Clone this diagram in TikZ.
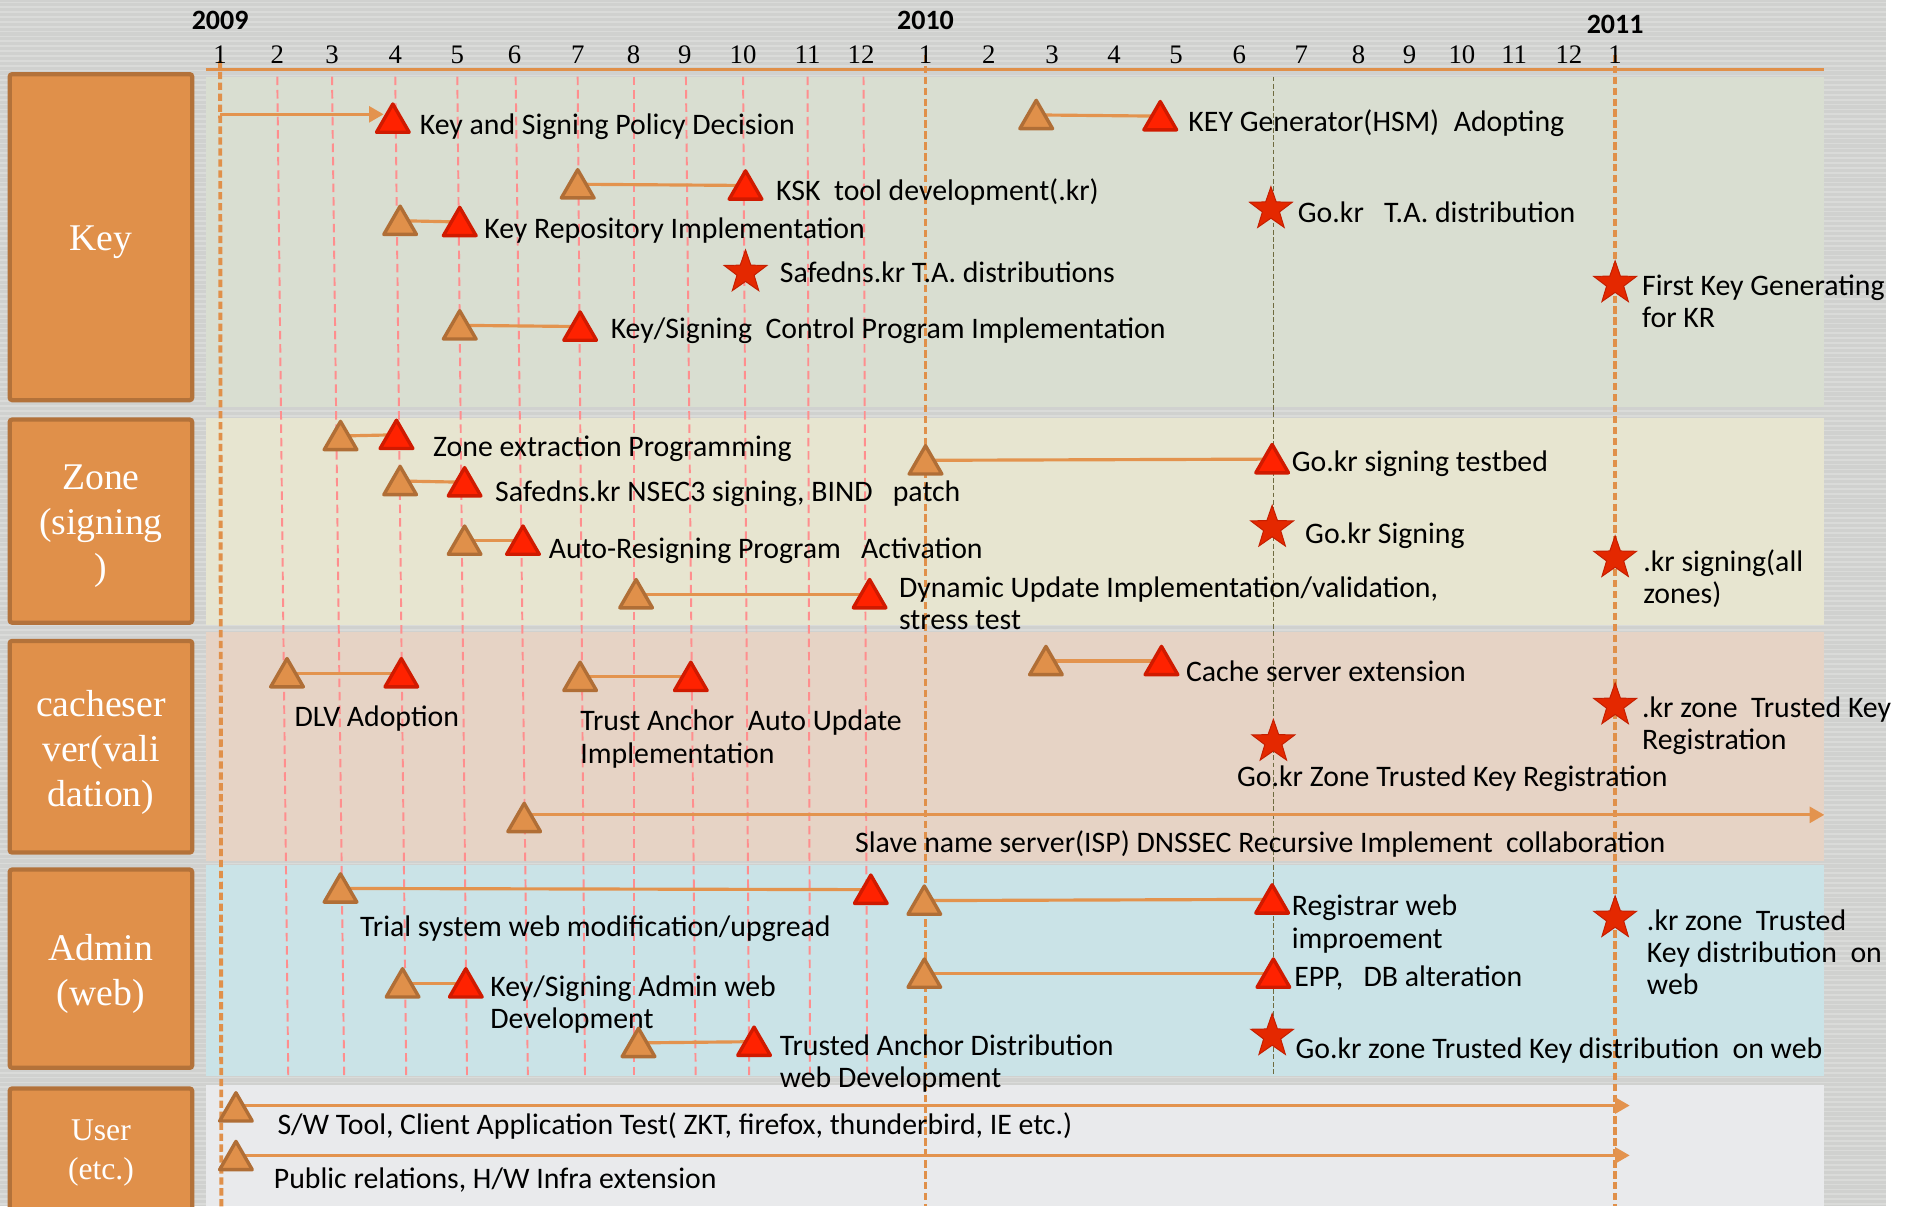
\documentclass[tikz,border=0pt]{standalone}
\usepackage{fontspec}
\setmainfont{Carlito}
\newfontfamily\serifF{Liberation Serif}
\usetikzlibrary{shapes.geometric,arrows.meta}
\definecolor{bgGrey}{HTML}{D0D1CF}
\definecolor{keyBand}{HTML}{D9DED1}
\definecolor{zoneBand}{HTML}{E7E5D0}
\definecolor{cacheBand}{HTML}{E6D3C5}
\definecolor{adminBand}{HTML}{CAE3E7}
\definecolor{userBand}{HTML}{E9EAEC}
\definecolor{boxF}{HTML}{E0904A}
\definecolor{boxD}{HTML}{B3723A}
\definecolor{triOr}{HTML}{E0904A}
\definecolor{triOrD}{HTML}{B06E36}
\definecolor{triRed}{HTML}{FF2200}
\definecolor{triRedD}{HTML}{D01A00}
\definecolor{starR}{HTML}{E42800}
\definecolor{starD}{HTML}{C41E00}
\definecolor{lnOr}{HTML}{E3934E}
\definecolor{pinkL}{HTML}{FF8E8E}
\definecolor{oliveL}{HTML}{6F6B3F}
\pgfdeclarelayer{bg}
\pgfdeclarelayer{mid}
\pgfsetlayers{bg,mid,main}
\begin{document}
\begin{tikzpicture}[x=1pt,y=-1pt,
  ostart/.style={regular polygon, regular polygon sides=3, minimum size=31pt, inner sep=0pt, fill=triOr, draw=triOrD, line width=2.8pt, line join=round},
  rend/.style={ostart, fill=triRed, draw=triRedD},
  mstar/.style={star, star points=5, star point ratio=2.5, minimum size=37pt, inner sep=0pt, fill=starR, draw=starD, line width=0.8pt},
  lab/.style={anchor=base west, inner sep=0pt, align=left, font=\fontsize{24.5}{26.5}\selectfont},
  evlink/.style={draw=lnOr, line width=2.6pt},
  evarrow/.style={evlink, -{Triangle[length=12pt,width=13pt]}},
  boxst/.style={draw=boxD, fill=boxF, line width=3.5pt, rounded corners=2pt, minimum width=150pt},
  boxlab/.style={text=white, align=center, inner sep=0pt, font=\serifF\fontsize{31}{37}\selectfont},
  monthlab/.style={font=\serifF\fontsize{22}{24}\selectfont, inner sep=0pt},
  yearlab/.style={font=\bfseries\fontsize{23}{25}\selectfont, inner sep=0pt},
  pinkdash/.style={draw=pinkL, line width=1.6pt, dash pattern=on 7pt off 4pt},
  orvert/.style={draw=boxF, line width=3.2pt, dash pattern=on 6pt off 3pt},
  olivedash/.style={draw=oliveL, line width=1.4pt, dash pattern=on 4pt off 2pt}
]
\useasboundingbox (0,0) rectangle (1568,992);
\begin{pgfonlayer}{bg}
\fill[white] (0,0) rectangle (1568,992);
\fill[bgGrey] (0,0) rectangle (1551,992);
\foreach \yy in {2,6,...,990} \draw[white, opacity=0.22, line width=1.4pt] (0,\yy) -- (1551,\yy);
% bands
\fill[keyBand] (169,63) rectangle (1500,335);
\fill[zoneBand] (169,344) rectangle (1500,514);
\fill[cacheBand] (169,520) rectangle (1500,708);
\fill[adminBand] (169,711) rectangle (1500,885);
\fill[userBand] (169,892) rectangle (1500,992);
% pink month lines
\foreach \xt/\xb in {228/237,273/283,325/334,376/384,424/434,475/481,521/521,564/572,611/616,664/666,710/713}
  \draw[pinkdash] (\xt,63) -- (\xb,884);
% olive line
\draw[olivedash] (1047,63) -- (1047,884);
% year lines
\draw[orvert] (181,50) -- (182,992);
\draw[orvert] (761,45) -- (761,992);
\draw[orvert] (1328,45) -- (1328,992);
% axis
\draw[draw=boxF, line width=2.6pt] (169,57) -- (1500,57);
\end{pgfonlayer}

% left boxes
\node[boxst, minimum height=268pt] (bKey) at (83,195) {};
\node[boxst, minimum height=167pt] (bZone) at (83,428.5) {};
\node[boxst, minimum height=174pt] (bCache) at (83,614) {};
\node[boxst, minimum height=163pt] (bAdmin) at (83,796.5) {};
\node[boxst, minimum height=108pt] (bUser) at (83,949) {};
\node[boxlab] (lKey) at (83,199) {Key};
\node[boxlab] (lZone) at (83,433) {Zone\\(signing\\)};
\node[boxlab] (lCache) at (83,619) {cacheser\\ver(vali\\dation)};
\node[boxlab] (lAdmin) at (83,801) {Admin\\(web)};
\node[boxlab, font=\serifF\fontsize{26}{32}\selectfont] (lUser) at (83,948) {User\\(etc.)};

% years and months
\node[yearlab] (y2009) at (181,17) {2009};
\node[yearlab] (y2010) at (761,17) {2010};
\node[yearlab] (y2011) at (1328,20) {2011};
\foreach \x/\n [count=\i] in {181/1,228/2,273/3,325/4,376/5,423/6,475/7,521/8,563/9,611/10,664/11,708/12,761/1,813/2,865/3,916/4,967/5,1019/6,1070/7,1117/8,1159/9,1202/10,1245/11,1290/12,1328/1}
  \node[monthlab] (m\i) at (\x,45) {\n};

% ---------------- Key band
\coordinate (c1) at (181,94);
\node[rend] (r1) at (323,101) {};
\draw[evarrow, shorten >=-3pt] (c1) -- (c1 -| r1.west);
\node[lab] (t1) at (345,111) {Key and Signing Policy Decision};

\node[ostart] (o2) at (852,98) {};
\node[rend] (r2) at (954,99) {};
\node[lab] (t2) at (977,108) {KEY Generator(HSM)\hspace{12pt}Adopting};

\node[ostart] (o3) at (475,155) {};
\node[rend] (r3) at (613,156) {};
\node[lab] (t3) at (638,165) {KSK\ \ tool development(.kr)};

\node[ostart] (o4) at (329,185) {};
\node[rend] (r4) at (378,186) {};
\node[lab] (t4) at (398,196) {Key Repository Implementation};

\node[mstar] (st5) at (1045,172) {};
\node[lab] (t5) at (1067,183) {Go.kr\ \ \ T.A. distribution};

\node[mstar] (st6) at (613,224) {};
\node[lab] (t6) at (641,232) {Safedns.kr T.A. distributions};

\node[mstar] (st7) at (1328,233) {};
\node[lab] (t7) at (1350,269.5) {First Key Generating\\for KR};

\node[ostart] (o8) at (378,271) {};
\node[rend] (r8) at (477,272) {};
\node[lab] (t8) at (502,278) {Key/Signing\ \ Control Program Implementation};

% ---------------- Zone band
\node[ostart] (o9) at (280,362) {};
\node[rend] (r9) at (326,361) {};
\node[lab] (t9) at (356,375) {Zone extraction Programming};

\node[ostart] (o10) at (761,382) {};
\node[rend] (r10) at (1046,381) {};
\node[lab] (t10) at (1062,388) {Go.kr signing testbed};

\node[ostart] (o11) at (329,399) {};
\node[rend] (r11) at (382,400) {};
\node[lab] (t11) at (407,412) {Safedns.kr NSEC3 signing, BIND\ \ \ patch};

\node[mstar] (st12) at (1046,434) {};
\node[lab] (t12) at (1073,447) {Go.kr Signing};

\node[ostart] (o13) at (382,448) {};
\node[rend] (r13) at (430,448) {};
\node[lab] (t13) at (451,459) {Auto-Resigning Program\ \ \ Activation};

\node[mstar] (st14) at (1328,459) {};
\node[lab] (t14) at (1351,496.5) {.kr signing(all\\zones)};

\node[ostart] (o15) at (523,492) {};
\node[rend] (r15) at (715,492) {};
\node[lab] (t15) at (739,517.5) {Dynamic Update Implementation/validation,\\stress test};

% ---------------- Cache band
\node[ostart] (o16) at (236,557) {};
\node[rend] (r16) at (330,557) {};
\node[lab] (t16) at (242,597) {DLV Adoption};

\node[ostart] (o17) at (477,560) {};
\node[rend] (r17) at (568,560) {};
\node[lab] (t17) at (477,627.5) {Trust Anchor\ \ Auto Update\\Implementation};

\node[ostart] (o18) at (860,547) {};
\node[rend] (r18) at (955,547) {};
\node[lab] (t18) at (975,560) {Cache server extension};

\node[mstar] (st19) at (1328,580) {};
\node[lab] (t19) at (1350,616.5) {.kr zone\ \ Trusted Key\\Registration};

\node[mstar] (st20) at (1047,610) {};
\node[lab] (t20) at (1017,647) {Go.kr Zone Trusted Key Registration};

\node[ostart] (o21) at (431,676) {};
\coordinate (e21) at (1500,670);
\node[lab] (t21) at (703,701) {Slave name server(ISP) DNSSEC Recursive Implement\ \ collaboration};

% ---------------- Admin band
\node[ostart] (o22) at (280,734) {};
\node[rend] (r22) at (716,735) {};
\node[lab] (t22) at (296,770) {Trial system web modification/upgread};

\node[ostart] (o23) at (760,744) {};
\node[rend] (r23) at (1046,743) {};
\node[lab] (t23) at (1062,779.5) {Registrar web\\improement};

\node[mstar] (st24) at (1328,755) {};
\node[lab] (t24) at (1354,818) {.kr zone\ \ Trusted\\Key distribution\ \ on\\web};

\node[ostart] (o25) at (331,812) {};
\node[rend] (r25) at (383,812) {};
\node[lab] (t25) at (403,845.5) {Key/Signing Admin web\\Development};

\node[ostart] (o26) at (760,804) {};
\node[rend] (r26) at (1047,804) {};
\node[lab] (t26) at (1064,811) {EPP,\ \ \ DB alteration};

\node[ostart] (o27) at (525,861) {};
\node[rend] (r27) at (620,860) {};
\node[lab] (t27) at (641,894.5) {Trusted Anchor Distribution\\web Development};

\node[mstar] (st28) at (1046,852) {};
\node[lab] (t28) at (1065,870) {Go.kr zone Trusted Key distribution\ \ on web};

% ---------------- User band
\node[ostart] (o29) at (194,914) {};
\coordinate (e29) at (1340,909);
\node[lab] (t29) at (228,933) {S/W Tool, Client Application Test( ZKT, firefox, thunderbird, IE etc.)};

\node[ostart] (o30) at (194,954) {};
\coordinate (e30) at (1340,950);
\node[lab] (t30) at (225,977) {Public relations, H/W Infra extension};

% ---------------- connectors (behind markers)
\begin{pgfonlayer}{mid}
\foreach \k in {2,3,4,8,9,10,11,13,15,16,17,18,22,23,25,26,27}
  \draw[evlink] ([yshift=3.5pt]o\k.center) -- ([yshift=3.5pt]r\k.center);
\draw[evarrow] (o21.center |- e21) -- (e21);
\draw[evarrow] (o29.center |- e29) -- (e29);
\draw[evarrow] (o30.center |- e30) -- (e30);
\end{pgfonlayer}
\end{tikzpicture}
\end{document}
